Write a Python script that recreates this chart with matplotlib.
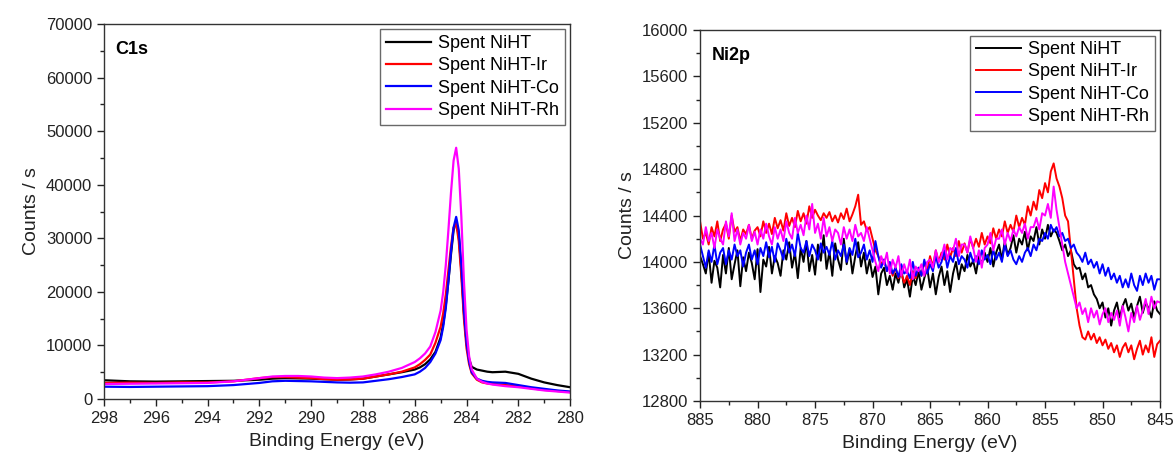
import numpy as np
import matplotlib.pyplot as plt
from matplotlib.ticker import MultipleLocator

plt.rcParams['font.family'] = ['Liberation Sans', 'DejaVu Sans']

labels = ['Spent NiHT', 'Spent NiHT-Ir', 'Spent NiHT-Co', 'Spent NiHT-Rh']
colors = ['black', '#ff0000', '#0000ff', '#ff00ff']

# C1s region (binding energy, eV)
c1s_energy = [298, 297, 296, 295, 294, 293, 292, 291.5, 291, 290.5, 290, 289.5, 289, 288.5,
              288, 287.5, 287, 286.5, 286, 285.8, 285.6, 285.4, 285.2, 285.0, 284.9, 284.8,
              284.7, 284.6, 284.5, 284.4, 284.3, 284.2, 284.1, 284.0, 283.9, 283.8, 283.6,
              283.4, 283.2, 283.0, 282.5, 282.0, 281.5, 281.0, 280.5, 280.0]
c1s_niht = [3500, 3300, 3250, 3300, 3350, 3400, 3600, 3800, 3900, 3850, 3800, 3700, 3600, 3650,
            3800, 4200, 4600, 5000, 5500, 5900, 6500, 7400, 8800, 11500, 14000, 17500,
            22000, 27000, 31500, 33200, 30500, 24000, 16000, 10500, 7500, 6000, 5500,
            5300, 5100, 5000, 5100, 4700, 3800, 3100, 2600, 2200]
c1s_ir = [3000, 3050, 3000, 3100, 3100, 3300, 3900, 4100, 4100, 4000, 3900, 3700, 3600, 3650,
          3800, 4200, 4600, 5100, 5900, 6500, 7300, 8300, 10500, 13500, 16000, 19500,
          24000, 28500, 32000, 32800, 29500, 23000, 15000, 9500, 6500, 4800, 3600,
          3100, 2900, 2800, 2600, 2400, 2000, 1700, 1500, 1300]
c1s_co = [2300, 2250, 2300, 2350, 2400, 2600, 3000, 3300, 3400, 3350, 3300, 3200, 3100, 3050,
          3100, 3400, 3700, 4100, 4600, 5100, 5800, 6900, 8500, 11000, 13500, 17000,
          22000, 27500, 32000, 34000, 31500, 25000, 16500, 10500, 7000, 5000, 3800,
          3400, 3200, 3100, 3000, 2600, 2200, 1900, 1600, 1400]
c1s_rh = [2800, 2850, 2900, 2950, 3000, 3300, 3900, 4200, 4300, 4300, 4200, 4000, 3900, 4000,
          4200, 4600, 5100, 5800, 6900, 7600, 8500, 9800, 12500, 16500, 20000, 25000,
          31500, 38500, 44500, 46900, 43000, 34000, 22000, 13000, 8000, 5500, 3800,
          3200, 2900, 2700, 2400, 2200, 1900, 1600, 1400, 1200]

# Ni2p region, scanned 885 -> 845 eV in 0.25 eV steps
ni_energy = np.linspace(885, 845, 161)
ni_niht = [14050, 13980, 13900, 14080, 13820, 14010, 13950, 13780, 14060, 13900, 14120, 13850,
           13980, 14100, 13790, 14040, 13920, 14080, 13990, 13850, 14110, 13740, 14020, 13960,
           14130, 13900, 14050, 13990, 13880, 14100, 14020, 14170, 13950, 14080, 13860, 14120,
           14000, 14180, 13920, 14060, 13890, 14150, 14010, 14230, 13940, 14090, 13880, 14160,
           14020, 13930, 14200, 13980, 14110, 13900, 14050, 14170, 13960, 14080, 13900, 14020,
           13870, 13960, 13720, 13900, 13950, 13800, 13880, 13760, 13900, 13820, 13940, 13780,
           13850, 13700, 13880, 13800, 13920, 13760, 13860, 13950, 13780, 13900, 13720, 13870,
           13960, 13800, 13920, 13740, 13900, 14000, 13850, 13980, 13920, 14060, 13960, 14010,
           13900, 14050, 13980, 14080, 14000, 14120, 13960, 14080, 14150, 14020, 14180, 14060,
           14120, 14230, 14080, 14200, 14150, 14260, 14100, 14220, 14180, 14300, 14150, 14280,
           14200, 14320, 14220, 14280, 14250, 14180, 14100, 14150, 14050, 14100, 13980, 13940,
           13950, 13850, 13900, 13780, 13800, 13720, 13680, 13600, 13650, 13520, 13600, 13450,
           13580, 13650, 13520, 13620, 13680, 13580, 13640, 13520, 13620, 13700, 13560, 13650,
           13600, 13520, 13660, 13580, 13550]
ni_ir = [14350, 14200, 14250, 14150, 14300, 14220, 14350, 14180, 14280, 14330, 14200, 14400,
         14260, 14300, 14180, 14280, 14240, 14320, 14200, 14270, 14300, 14220, 14350, 14250,
         14330, 14240, 14380, 14290, 14360, 14270, 14420, 14310, 14380, 14300, 14440, 14350,
         14420, 14330, 14480, 14380, 14450, 14400, 14360, 14420, 14380, 14430, 14350, 14400,
         14340, 14420, 14370, 14460, 14350, 14410, 14480, 14580, 14320, 14350, 14270, 14300,
         14200, 14100, 14050, 13980, 14020, 13920, 13980, 13880, 13950, 13860, 13900, 13820,
         13880, 13800, 13920, 13860, 13950, 13880, 14000, 13920, 14050, 13960, 14100, 14000,
         14080, 14020, 14150, 14040, 14120, 14050, 14180, 14080, 14160, 14080, 14200, 14120,
         14200, 14130, 14250, 14150, 14220, 14160, 14290, 14200, 14280, 14220, 14350, 14250,
         14320, 14260, 14400, 14300, 14380, 14320, 14480, 14400, 14520, 14450, 14620, 14550,
         14680, 14600, 14780, 14850, 14720, 14650, 14550, 14400, 14350, 14100, 13850, 13600,
         13450, 13350, 13330, 13400, 13330, 13380, 13300, 13350, 13280, 13330, 13250, 13300,
         13220, 13280, 13180, 13260, 13300, 13220, 13280, 13160, 13250, 13320, 13200, 13280,
         13220, 13350, 13180, 13290, 13320]
ni_co = [14150, 14050, 13950, 14100, 14000, 14150, 13980, 14080, 14120, 13980, 14100, 14020,
         14150, 14050, 14100, 13960, 14080, 14150, 14020, 14100, 13980, 14120, 14050, 14170,
         14040, 14130, 14000, 14160, 14100, 14020, 14200, 14080, 14150, 14050, 14250, 14120,
         14080, 14180, 14050, 14150, 14100, 14020, 14160, 14080, 14130, 14060, 14180, 14020,
         14100, 14050, 14150, 14000, 14120, 14060, 14200, 14040, 14080, 14150, 14020, 14100,
         14000, 14180, 14050, 13950, 14020, 13920, 14000, 13900, 13950, 13870, 13980, 13900,
         13920, 13860, 14000, 13880, 13950, 13880, 14020, 13900, 13980, 13920, 14050, 13950,
         14000, 14100, 13950, 14050, 14000, 14120, 13980, 14050, 14020, 13950, 14080, 14000,
         14050, 13980, 14100, 14020, 14060, 13980, 14100, 14020, 14080, 14000, 14150, 14050,
         14100, 14020, 13980, 14050, 14000, 14080, 14120, 14050, 14150, 14100, 14200, 14180,
         14250, 14200, 14320, 14260, 14300, 14220, 14250, 14180, 14200, 14120, 14150, 14080,
         14050, 14000, 14080, 13980, 14020, 13950, 14000, 13900, 13980, 13880, 13950, 13850,
         13900, 13820, 13880, 13780, 13850, 13780, 13900, 13800, 13750, 13880, 13800, 13900,
         13820, 13880, 13760, 13850, 13850]
ni_rh = [14200, 14150, 14300, 14180, 14250, 14120, 14280, 14200, 14150, 14350, 14220, 14420,
         14180, 14280, 14150, 14250, 14200, 14320, 14180, 14260, 14150, 14280, 14200, 14330,
         14220, 14150, 14300, 14200, 14280, 14180, 14350, 14250, 14200, 14380, 14250, 14320,
         14230, 14400, 14280, 14500, 14250, 14330, 14200, 14380, 14220, 14300, 14180, 14280,
         14250, 14150, 14300, 14200, 14280, 14180, 14320, 14220, 14250, 14180, 14300, 14200,
         14100, 14000, 13920, 14050, 13980, 14080, 13900, 14020, 13950, 14050, 13880, 13980,
         13900, 14020, 13850, 13960, 13920, 13980, 13880, 14000, 14020, 13950, 14100, 14000,
         14050, 14150, 14020, 14120, 14100, 14200, 14050, 14150, 14150, 14080, 14220, 14120,
         14000, 14100, 13950, 14120, 14150, 14250, 14100, 14200, 14200, 14280, 14150, 14250,
         14180, 14280, 14220, 14300, 14250, 14330, 14200, 14300, 14300, 14380, 14280, 14420,
         14400, 14500, 14380, 14650, 14450, 14300, 14150, 14000, 13900, 13800, 13700, 13600,
         13650, 13550, 13600, 13480, 13600, 13520, 13580, 13460, 13550, 13600, 13480, 13560,
         13500, 13580, 13450, 13620, 13520, 13400, 13560, 13480, 13620, 13500, 13580, 13680,
         13550, 13700, 13600, 13660, 13650]

fig = plt.figure(figsize=(11.74, 4.59), dpi=100)
ax1 = fig.add_axes([0.0886, 0.1307, 0.397, 0.817])
ax2 = fig.add_axes([0.5963, 0.1264, 0.3918, 0.808])

tick_color = '#222222'


def style_axes(ax, tag):
    ax.tick_params(which='both', direction='out', top=False, right=False,
                   labelsize=12, colors=tick_color, labelcolor=tick_color)
    ax.tick_params(which='major', length=5, width=1)
    ax.tick_params(which='minor', length=3, width=1)
    for sp in ax.spines.values():
        sp.set_color('#333333')
        sp.set_linewidth(1)
    ax.set_xlabel('Binding Energy (eV)', fontsize=14, color=tick_color, labelpad=5)
    ax.set_ylabel('Counts / s', fontsize=14, color=tick_color)
    ax.text(0.025, 0.955, tag, transform=ax.transAxes, fontsize=13,
            fontweight='bold', va='top', ha='left')
    leg = ax.legend(loc='upper right', fontsize=13, handlelength=2.5,
                    fancybox=False, borderaxespad=0.3, labelspacing=0.3,
                    handletextpad=0.4, borderpad=0.3)
    leg.get_frame().set_edgecolor('#444444')
    leg.get_frame().set_linewidth(1)


for ys, lab, c in zip([c1s_niht, c1s_ir, c1s_co, c1s_rh], labels, colors):
    ax1.plot(c1s_energy, ys, color=c, lw=1.6, label=lab)
ax1.set_xlim(298, 280)
ax1.set_ylim(0, 70000)
ax1.xaxis.set_major_locator(MultipleLocator(2))
ax1.xaxis.set_minor_locator(MultipleLocator(1))
ax1.yaxis.set_major_locator(MultipleLocator(10000))
ax1.yaxis.set_minor_locator(MultipleLocator(5000))
style_axes(ax1, 'C1s')

for ys, lab, c in zip([ni_niht, ni_ir, ni_co, ni_rh], labels, colors):
    ax2.plot(ni_energy, ys, color=c, lw=1.4, label=lab)
ax2.set_xlim(885, 845)
ax2.set_ylim(12800, 16000)
ax2.xaxis.set_major_locator(MultipleLocator(5))
ax2.xaxis.set_minor_locator(MultipleLocator(2.5))
ax2.yaxis.set_major_locator(MultipleLocator(400))
ax2.yaxis.set_minor_locator(MultipleLocator(200))
style_axes(ax2, 'Ni2p')

fig.savefig('out.png', dpi=100)
